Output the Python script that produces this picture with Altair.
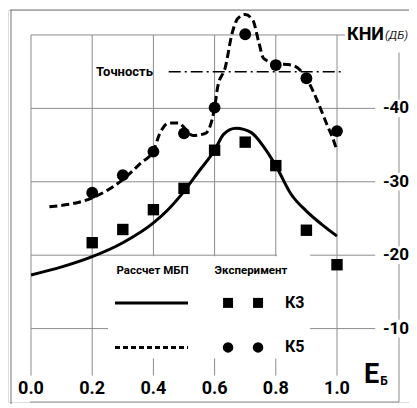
import altair as alt
import pandas as pd

# ---------------- data ----------------
exp_x = [0.2, 0.3, 0.4, 0.5, 0.6, 0.7, 0.8, 0.9, 1.0]
k3_exp = [-21.7, -23.5, -26.2, -29.1, -34.3, -35.4, -32.2, -23.4, -18.7]
k5_exp = [-28.5, -30.9, -34.1, -36.6, -40.1, -50.1, -45.9, -44.1, -36.9]

k3_calc_x = [0.0, 0.1, 0.2, 0.3, 0.4, 0.45, 0.5, 0.55, 0.6, 0.63, 0.67, 0.72, 0.76, 0.8, 0.85, 0.9, 0.95, 1.0]
k3_calc_y = [-17.3, -18.4, -19.8, -21.7, -24.4, -26.3, -28.7, -31.5, -34.3, -36.5, -37.3, -36.7, -34.8, -32.2, -28.3, -26.0, -24.2, -22.6]

k5_calc_x = [0.06, 0.2, 0.3, 0.36, 0.4, 0.42, 0.45, 0.48, 0.53, 0.57, 0.6, 0.61, 0.635, 0.657, 0.675, 0.7,
             0.725, 0.745, 0.76, 0.8, 0.85, 0.88, 0.9, 0.935, 0.965, 0.99, 1.0]
k5_calc_y = [-26.6, -27.8, -30.3, -32.6, -34.2, -36.5, -38.0, -38.0, -36.3, -36.6, -40.1, -42.9, -45.6, -50.2,
             -52.2, -52.8, -52.0, -48.9, -46.8, -46.1, -45.9, -45.2, -44.1, -41.1, -38.0, -35.5, -34.2]

x_ticks = [0.0, 0.2, 0.4, 0.6, 0.8, 1.0]
x_tick_labels = ["0.0", "0.2", "0.4", "0.6", "0.8", "1.0"]
y_grid = [-50, -40, -30, -20, -10]
y_label_values = [-40, -30, -20, -10]
y_tick_labels = ["-40", "-30", "-20", "-10"]
accuracy_level = -45
accuracy_label = "Точность"
legend_head = ["Рассчет МБП", "Эксперимент"]
series_names = ["К3", "К5"]
y_title = "КНИ"
y_unit = "(ДБ)"
x_title = "Е"
x_title_sub = "Б"

# ---------------- layout ----------------
W, H = 401, 392
FONT = "Roboto, Liberation Sans, sans-serif"
GRID = "#8c8c8c"
XS = alt.Scale(domain=[-0.0752, 1.2353], nice=False, zero=False)
YS = alt.Scale(domain=[-53.4, 0], reverse=True, nice=False, zero=False)
AX = 391  # pixel position of the right axis line inside the plot


def X(f="x"):
    return alt.X(f"{f}:Q", scale=XS, axis=None)


def Y(f="y"):
    return alt.Y(f"{f}:Q", scale=YS, axis=None)


one = pd.DataFrame({"a": [0]})

# frame lines
frame_left = alt.Chart(one).mark_rule(color="#777", strokeWidth=1).encode(
    x=alt.value(3), y=alt.value(0), y2=alt.value(400))
frame_top = alt.Chart(one).mark_rule(color="#777", strokeWidth=1).encode(
    x=alt.value(2), x2=alt.value(W), y=alt.value(0))

# grid
vgrid = alt.Chart(pd.DataFrame({"x": x_ticks})).transform_calculate(
    y="-50", y2="-3.6").mark_rule(color=GRID, strokeWidth=1).encode(
    x=X(), y=Y(), y2="y2:Q")
hgrid_df = pd.DataFrame({"y": y_grid})
hgrid = alt.Chart(hgrid_df).transform_calculate(
    x="0", x2="datum.y == -50 ? 1.026 : 1.125").mark_rule(color=GRID, strokeWidth=1).encode(
    x=X(), x2="x2:Q", y=Y())

# white legend background (breaks the grid like in the original)
masks = alt.Chart(pd.DataFrame({
    "x": [0.2516, 0.804], "x2": [0.912, 0.912], "y": [-19.85, -20.35], "y2": [-5.94, -19.6]
})).mark_rect(color="white").encode(x=X(), x2="x2:Q", y=Y(), y2="y2:Q")

# accuracy line
acc = alt.Chart(pd.DataFrame({"y": [accuracy_level]})).transform_calculate(
    x="0.45", x2="1.02").mark_rule(color="black", strokeWidth=1.5, strokeDash=[12, 4, 2, 4]).encode(
    x=X(), x2="x2:Q", y=Y())
acc_txt = alt.Chart(pd.DataFrame({"t": [accuracy_label], "y": [accuracy_level]})).transform_calculate(
    x="0.3056").mark_text(font=FONT, fontSize=13, fontWeight="bold", color="black").encode(
    x=X(), y=Y(), text="t:N")

# series
k3_line = alt.Chart(pd.DataFrame({"x": k3_calc_x, "y": k3_calc_y})).mark_line(
    color="black", strokeWidth=3, interpolate="monotone").encode(x=X(), y=Y())
k5_line = alt.Chart(pd.DataFrame({"x": k5_calc_x, "y": k5_calc_y})).mark_line(
    color="black", strokeWidth=3, strokeDash=[8, 4], interpolate="monotone").encode(x=X(), y=Y())
k3_pts = alt.Chart(pd.DataFrame({"x": exp_x, "y": k3_exp})).mark_point(
    shape="square", filled=True, size=130, color="black", opacity=1).encode(x=X(), y=Y())
k5_pts = alt.Chart(pd.DataFrame({"x": exp_x, "y": k5_exp})).mark_point(
    shape="circle", filled=True, size=140, color="black", opacity=1).encode(x=X(), y=Y())

# legend
LY = [-13.5, -7.44]
leg_head = alt.Chart(pd.DataFrame({"t": legend_head, "x": [0.397, 0.719]})).transform_calculate(
    y="-17.9").mark_text(font=FONT, fontSize=11.5, fontWeight="bold", color="black").encode(
    x=X(), y=Y(), text="t:N")
leg_solid = alt.Chart(pd.DataFrame({"y": [LY[0]]})).transform_calculate(
    x="0.2745", x2="0.513").mark_rule(color="black", strokeWidth=3).encode(x=X(), x2="x2:Q", y=Y())
leg_dash = alt.Chart(pd.DataFrame({"y": [LY[1]]})).transform_calculate(
    x="0.2745", x2="0.513").mark_rule(color="black", strokeWidth=3, strokeDash=[5, 3]).encode(
    x=X(), x2="x2:Q", y=Y())
leg_sq = alt.Chart(pd.DataFrame({"x": [0.644, 0.742]})).transform_calculate(
    y=str(LY[0])).mark_point(shape="square", filled=True, size=100, color="black", opacity=1).encode(
    x=X(), y=Y())
leg_ci = alt.Chart(pd.DataFrame({"x": [0.644, 0.742]})).transform_calculate(
    y=str(LY[1])).mark_point(shape="circle", filled=True, size=110, color="black", opacity=1).encode(
    x=X(), y=Y())
leg_names = alt.Chart(pd.DataFrame({"t": series_names, "y": LY})).transform_calculate(
    x="0.830").mark_text(font=FONT, fontSize=16, fontWeight="bold", color="black", align="left").encode(
    x=X(), y=Y(), text="t:N")

# right axis
raxis = alt.Chart(one).transform_calculate(y="-47.6", y2="0").mark_rule(
    color=GRID, strokeWidth=1).encode(x=alt.value(AX), y=Y(), y2="y2:Q")
rmask = alt.Chart(pd.DataFrame({"y": y_label_values})).transform_calculate(
    ya="datum.y - 1.2", yb="datum.y + 1.2").mark_rect(color="white").encode(
    x=alt.value(AX - 12), x2=alt.value(W), y=Y("ya"), y2="yb:Q")
rlab = alt.Chart(pd.DataFrame({"y": y_label_values, "t": y_tick_labels})).mark_text(
    font=FONT, fontSize=17, fontWeight="bold", color="black").encode(
    x=alt.value(AX - 3), y=Y(), text="t:N")
ytitle = alt.Chart(pd.DataFrame({"t": [y_title]})).transform_calculate(y="-50").mark_text(
    font=FONT, fontSize=18, fontWeight="bold", color="black", align="left").encode(
    x=alt.value(339), y=Y(), text="t:N")
yunit = alt.Chart(pd.DataFrame({"t": [y_unit]})).transform_calculate(y="-49.8").mark_text(
    font=FONT, fontSize=11.5, fontStyle="italic", color="#222", align="left").encode(
    x=alt.value(377), y=Y(), text="t:N")

# x axis
xline = alt.Chart(one).mark_rule(color=GRID, strokeWidth=1).encode(
    x=alt.value(22), x2=alt.value(AX), y=alt.value(H))
xlab = alt.Chart(pd.DataFrame({"x": x_ticks, "t": x_tick_labels})).transform_calculate(
    y="-1.8").mark_text(font=FONT, fontSize=18, fontWeight="bold", color="black").encode(
    x=X(), y=Y(), text="t:N")
xtitle = alt.Chart(pd.DataFrame({"t": [x_title]})).transform_calculate(y="-3.7").mark_text(
    font=FONT, fontSize=27, fontWeight="bold", color="black").encode(
    x=alt.value(363.5), y=Y(), text="t:N")
xtitle_sub = alt.Chart(pd.DataFrame({"t": [x_title_sub]})).transform_calculate(y="-2.9").mark_text(
    font=FONT, fontSize=12, fontWeight="bold", color="black").encode(
    x=alt.value(376), y=Y(), text="t:N")

chart = alt.layer(
    frame_left, frame_top, vgrid, hgrid, masks, acc, acc_txt,
    k3_line, k5_line, k3_pts, k5_pts,
    leg_head, leg_solid, leg_dash, leg_sq, leg_ci, leg_names,
    raxis, rmask, rlab, ytitle, yunit, xline, xlab, xtitle, xtitle_sub,
).properties(
    width=W, height=H,
    autosize=alt.AutoSizeParams(type="none"),
    padding={"left": 0, "top": 2, "right": 0, "bottom": 2},
).configure_view(stroke=None).configure(background="white")

chart.save("out.html", embed_options={"renderer": "svg", "actions": False})
